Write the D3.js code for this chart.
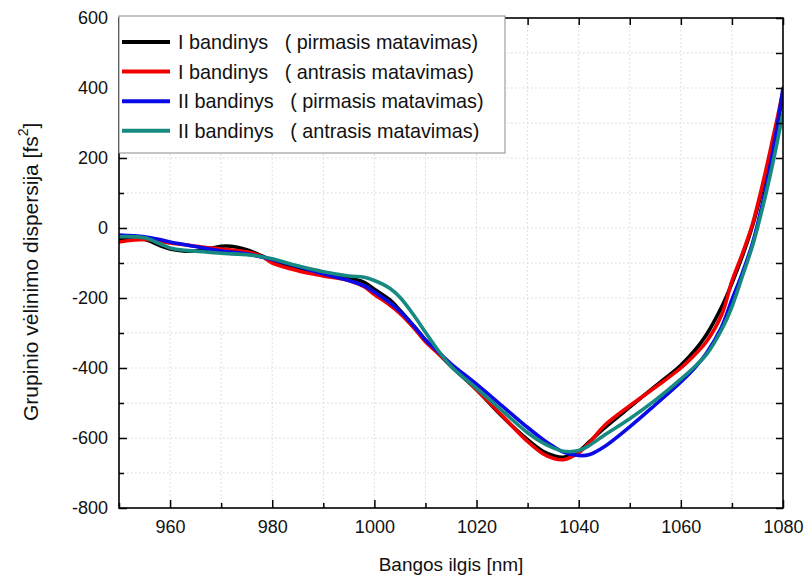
<!DOCTYPE html>
<html>
<head>
<meta charset="utf-8">
<script src="https://cdn.jsdelivr.net/npm/d3@7"></script>
<style>
  body { margin: 0; background: #fff; }
  text { font-family: Arial, "Liberation Sans", sans-serif; fill: #111; }
</style>
</head>
<body>
<div id="chart"></div>
<script>
// bangos ilgis (nm) - bendras visoms kreivems
var wavelength = [950, 955, 958, 960, 963, 965, 968, 970, 972, 975, 978, 980, 985, 990, 995, 998,
  1000, 1003, 1005, 1008, 1010, 1012, 1015, 1020, 1025, 1030, 1033, 1035, 1037, 1040, 1042, 1045,
  1050, 1055, 1060, 1063, 1065, 1068, 1070, 1072, 1074, 1076, 1078, 1080];

// grupinio velinimo dispersija (fs^2)
var s1first = [-30, -33, -50, -60, -66, -66, -58, -52, -52, -62, -80, -93, -115, -131, -142, -155,
  -175, -205, -235, -285, -320, -350, -395, -462, -538, -605, -638, -650, -655, -638, -612, -572,
  -512, -452, -392, -345, -305, -225, -158, -82, 5, 115, 240, 375];
var s1second = [-40, -33, -38, -43, -48, -52, -57, -60, -63, -68, -82, -100, -122, -137, -150, -168,
  -190, -220, -244, -290, -325, -352, -392, -462, -536, -610, -645, -658, -662, -642, -615, -565,
  -508, -455, -400, -358, -325, -248, -152, -75, 10, 125, 255, 390];
var s2first = [-20, -25, -33, -40, -48, -53, -61, -66, -69, -74, -83, -90, -110, -131, -150, -165,
  -183, -213, -238, -285, -320, -347, -388, -446, -508, -570, -604, -624, -640, -650, -648, -625,
  -568, -505, -440, -395, -358, -282, -205, -130, -45, 72, 218, 400];
var s2second = [-25, -28, -45, -57, -64, -66, -70, -72, -74, -76, -82, -88, -108, -125, -137, -141,
  -150, -172, -198, -255, -298, -340, -395, -458, -522, -585, -614, -628, -638, -636, -622, -592,
  -545, -492, -432, -392, -362, -290, -225, -140, -52, 58, 185, 330];

var seriesNames = ["I bandinys   ( pirmasis matavimas)", "I bandinys   ( antrasis matavimas)",
  "II bandinys   ( pirmasis matavimas)", "II bandinys   ( antrasis matavimas)"];
var seriesColors = ["#000000", "#f20000", "#0a0ae8", "#168a80"];
var seriesValues = [s1first, s1second, s2first, s2second];

var xMajor = [960, 980, 1000, 1020, 1040, 1060, 1080];
var xMinor = [950, 970, 990, 1010, 1030, 1050, 1070];
var yMajor = [-800, -600, -400, -200, 0, 200, 400, 600];
var yMinor = [-700, -500, -300, -100, 100, 300, 500];

var width = 806, height = 581;
var pLeft = 119, pRight = 783, pTop = 18, pBottom = 508;

var x = d3.scaleLinear().domain([950, 1080]).range([pLeft, pRight]);
var y = d3.scaleLinear().domain([-800, 600]).range([pBottom, pTop]);

// paprastas minusas (-), ne unicode
var fmt = function(d) { return String(d); };

var svg = d3.select("#chart").append("svg")
    .attr("width", width)
    .attr("height", height);

// tinklelis (punktyrinis)
var grid = svg.append("g").attr("class", "grid")
    .attr("stroke", "#d6d6d6")
    .attr("stroke-width", 1)
    .attr("stroke-dasharray", "1.5,2.5");
grid.selectAll("line.v")
    .data(xMajor.concat(xMinor).filter(function(d) { return d > 950 && d < 1080; }))
  .enter().append("line")
    .attr("class", "v")
    .attr("x1", function(d) { return x(d); })
    .attr("x2", function(d) { return x(d); })
    .attr("y1", pTop)
    .attr("y2", pBottom);
grid.selectAll("line.h")
    .data(yMajor.concat(yMinor).filter(function(d) { return d > -800 && d < 600; }))
  .enter().append("line")
    .attr("class", "h")
    .attr("x1", pLeft)
    .attr("x2", pRight)
    .attr("y1", function(d) { return y(d); })
    .attr("y2", function(d) { return y(d); });

// kreives
var line = d3.line()
    .x(function(d) { return x(d[0]); })
    .y(function(d) { return y(d[1]); })
    .curve(d3.curveCatmullRom.alpha(0.5));

svg.append("defs").append("clipPath").attr("id", "clip")
  .append("rect")
    .attr("x", pLeft).attr("y", pTop)
    .attr("width", pRight - pLeft).attr("height", pBottom - pTop);

svg.append("g")
    .attr("clip-path", "url(#clip)")
  .selectAll("path")
    .data(seriesValues)
  .enter().append("path")
    .attr("d", function(vals) { return line(vals.map(function(v, i) { return [wavelength[i], v]; })); })
    .attr("fill", "none")
    .attr("stroke", function(d, i) { return seriesColors[i]; })
    .attr("stroke-width", 3.6)
    .attr("stroke-linejoin", "round")
    .attr("stroke-linecap", "round");

// asys: zymes i vidu
function styleAxis(g) {
  g.select(".domain").remove();
  g.selectAll(".tick line").attr("stroke", "#000").attr("stroke-width", 1.5);
  g.selectAll(".tick text").attr("font-size", "18px").attr("fill", "#111")
    .attr("font-family", "Arial, 'Liberation Sans', sans-serif");
}

svg.append("g")
    .attr("transform", "translate(0," + pBottom + ")")
    .call(d3.axisBottom(x).tickValues(xMajor).tickSize(-8).tickPadding(12).tickFormat(fmt))
    .call(styleAxis);
svg.append("g")
    .attr("transform", "translate(0," + pBottom + ")")
    .call(d3.axisBottom(x).tickValues(xMinor).tickSize(-5).tickFormat(""))
    .call(styleAxis);
svg.append("g")
    .attr("transform", "translate(" + pLeft + ",0)")
    .call(d3.axisLeft(y).tickValues(yMajor).tickSize(-8).tickPadding(11).tickFormat(fmt))
    .call(styleAxis);
svg.append("g")
    .attr("transform", "translate(" + pLeft + ",0)")
    .call(d3.axisLeft(y).tickValues(yMinor).tickSize(-5).tickFormat(""))
    .call(styleAxis);
svg.append("g")
    .attr("transform", "translate(0," + pTop + ")")
    .call(d3.axisTop(x).tickValues(xMajor.concat(xMinor)).tickSize(-7).tickFormat(""))
    .call(styleAxis);
svg.append("g")
    .attr("transform", "translate(" + pRight + ",0)")
    .call(d3.axisRight(y).tickValues(yMajor.concat(yMinor)).tickSize(-7).tickFormat(""))
    .call(styleAxis);

svg.append("rect")
    .attr("x", pLeft).attr("y", pTop)
    .attr("width", pRight - pLeft).attr("height", pBottom - pTop)
    .attr("fill", "none")
    .attr("stroke", "#000")
    .attr("stroke-width", 1.6);

// asiu pavadinimai
svg.append("text")
    .attr("x", (pLeft + pRight) / 2)
    .attr("y", 571)
    .attr("text-anchor", "middle")
    .attr("font-size", "19px")
    .text("Bangos ilgis [nm]");

var ytitle = svg.append("text")
    .attr("transform", "translate(38,421) rotate(-90)")
    .attr("text-anchor", "start")
    .attr("font-size", "21px");
ytitle.append("tspan").text("Grupinio vėlinimo dispersija [fs");
ytitle.append("tspan").attr("font-size", "14px").attr("dy", -10).text("2");
ytitle.append("tspan").attr("dy", 10).text("]");

// legenda
var legend = svg.append("g").attr("class", "legend");
legend.append("rect")
    .attr("x", 119).attr("y", 16)
    .attr("width", 386).attr("height", 137)
    .attr("fill", "#fff")
    .attr("stroke", "#8a8a8a")
    .attr("stroke-width", 1);

var rows = legend.selectAll("g.row")
    .data(seriesNames)
  .enter().append("g")
    .attr("class", "row")
    .attr("transform", function(d, i) { return "translate(0," + (42 + i * 29.6) + ")"; });
rows.append("line")
    .attr("x1", 122).attr("x2", 170)
    .attr("stroke", function(d, i) { return seriesColors[i]; })
    .attr("stroke-width", 4);
rows.append("text")
    .attr("x", 178)
    .attr("y", 7)
    .attr("font-size", "19.8px")
    .style("white-space", "pre")
    .text(function(d) { return d; });
</script>
</body>
</html>
